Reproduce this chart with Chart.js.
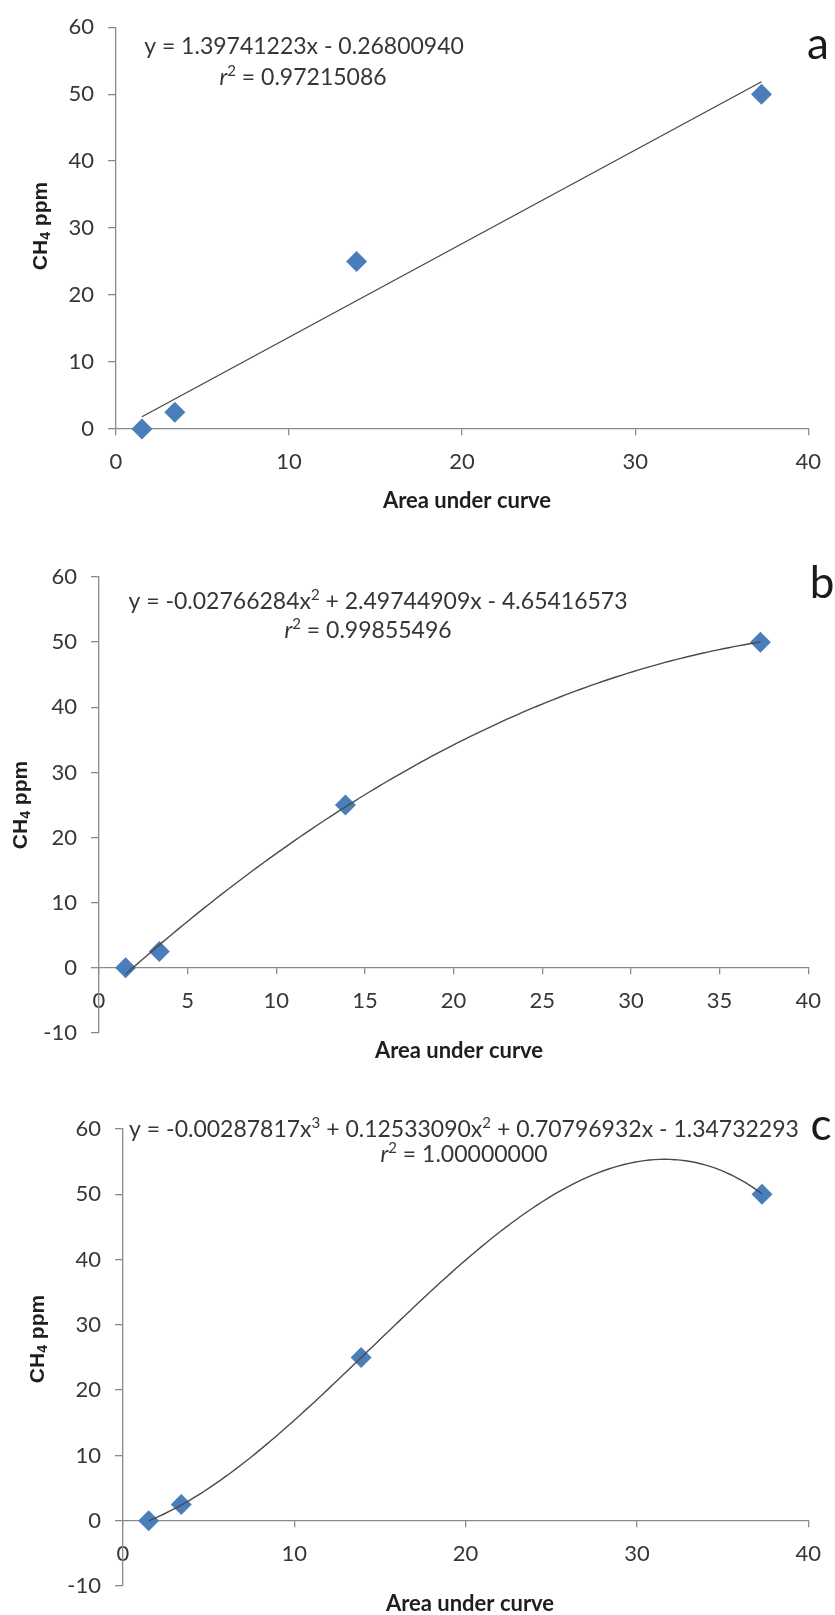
<!DOCTYPE html>
<html>
<head>
<meta charset="utf-8">
<title>CH4 calibration curves</title>
<script src="https://cdn.jsdelivr.net/npm/chart.js@4.4.1/dist/chart.umd.min.js"></script>
<style>
  html, body { margin: 0; padding: 0; background: #fff; }
  body { width: 835px; height: 1615px; position: relative; overflow: hidden; }
  canvas { position: absolute; left: 0; }
  #panelA { top: 0; }
  #panelB { top: 540px; }
  #panelC { top: 1075px; }
</style>
</head>
<body>
<canvas id="panelA" width="835" height="540"></canvas>
<canvas id="panelB" width="835" height="535"></canvas>
<canvas id="panelC" width="835" height="540"></canvas>

<script>
// calibration standards: peak area vs. methane concentration
const areaUnderCurve = [1.5, 3.4, 13.9, 37.3]
const ch4Ppm = [0, 2.5, 25, 50]

// fitted polynomials, constant term first
const linearFit = [-0.26800940, 1.39741223]
const quadraticFit = [-4.65416573, 2.49744909, -0.02766284]
const cubicFit = [-1.34732293, 0.70796932, 0.12533090, -0.00287817]
const rSquared = [0.97215086, 0.99855496, 1.00000000]

// axis ticks
const xTicksWide = [0, 10, 20, 30, 40]
const xTicksFine = [0, 5, 10, 15, 20, 25, 30, 35, 40]
const yTicksPositive = [0, 10, 20, 30, 40, 50, 60]
const yTicksWithNegative = [-10, 0, 10, 20, 30, 40, 50, 60]

const FONT = 'Lato, "Open Sans", sans-serif'
const TITLE_FONT = '"Liberation Sans", Arial, sans-serif'
const AXIS_GRAY = '#8a8a8a'
const TEXT = '#363636'
const MARKER_BLUE = '#4A7EBB'

const eqFont = '23px ' + FONT
const eqItalic = 'italic 23px ' + FONT
const supFont = '15px ' + FONT

// equation as text runs, powers raised:  y = -0.02766284x² + 2.49744909x - 4.65416573
function polyRuns(c) {
  const runs = []
  let s = 'y = '
  for (let p = c.length - 1; p >= 0; p--) {
    const v = c[p]
    if (p === c.length - 1) s += v < 0 ? '-' : ''
    else s += v < 0 ? ' - ' : ' + '
    s += Math.abs(v).toFixed(8) + (p >= 1 ? 'x' : '')
    if (p >= 2) {
      runs.push({ text: s, font: eqFont })
      runs.push({ text: String(p), font: supFont, dy: -7 })
      s = ''
    }
  }
  runs.push({ text: s, font: eqFont })
  return runs
}

function polyAt(c, x) {
  return c.reduce((sum, k, p) => sum + k * Math.pow(x, p), 0)
}

// trendline drawn over the span of the standards
function fitCurve(c) {
  const x0 = areaUnderCurve[0]
  const x1 = areaUnderCurve[areaUnderCurve.length - 1]
  const n = c.length === 2 ? 1 : 120
  const pts = []
  for (let i = 0; i <= n; i++) {
    const x = x0 + (x1 - x0) * i / n
    pts.push({ x, y: polyAt(c, x) })
  }
  return pts
}

// small text plugin: equations, panel letters, axis titles (with subscript)
const panelText = {
  id: 'panelText',
  afterDraw(chart, args, opts) {
    const ctx = chart.ctx
    ;(opts.items || []).forEach(it => {
      ctx.save()
      ctx.translate(it.x, it.y)
      if (it.rotate) ctx.rotate(it.rotate)
      ctx.fillStyle = it.color || TEXT
      ctx.textBaseline = 'middle'
      ctx.textAlign = 'left'
      let w = 0
      it.runs.forEach(r => { ctx.font = r.font; w += ctx.measureText(r.text).width })
      let x = -w / 2
      it.runs.forEach(r => {
        ctx.font = r.font
        ctx.fillText(r.text, x, r.dy || 0)
        x += ctx.measureText(r.text).width
      })
      ctx.restore()
    })
  }
}

function textItems(p) {
  return [
    { x: p.eq[0], y: p.eq[1], runs: polyRuns(p.fit) },
    { x: p.r2[0], y: p.r2[1], runs: [
      { text: 'r', font: eqItalic },
      { text: '2', font: supFont, dy: -7 },
      { text: ' = ' + p.r2Value.toFixed(8), font: eqFont }
    ] },
    { x: p.letter[0], y: p.letter[1], color: '#1a1a1a',
      runs: [{ text: p.letterText, font: '44px ' + FONT }] },
    { x: p.xTitle[0], y: p.xTitle[1], color: '#1e1e1e',
      runs: [{ text: 'Area under curve', font: 'bold 22px ' + FONT }] },
    { x: p.yTitle[0], y: p.yTitle[1], rotate: -Math.PI / 2, color: '#1e1e1e', runs: [
      { text: 'CH', font: 'bold 21px ' + TITLE_FONT },
      { text: '4', font: 'bold 14px ' + TITLE_FONT, dy: 5 },
      { text: ' ppm', font: 'bold 21px ' + TITLE_FONT }
    ] }
  ]
}

function makePanel(id, p) {
  return new Chart(document.getElementById(id), {
    type: 'scatter',
    data: {
      datasets: [
        {
          data: fitCurve(p.fit),
          showLine: true,
          borderColor: '#4a4a4a',
          borderWidth: 1.4,
          pointRadius: 0,
          tension: 0,
          clip: false,
          order: 0
        },
        {
          data: areaUnderCurve.map((x, i) => ({ x, y: ch4Ppm[i] })),
          pointStyle: 'rectRot',
          pointRadius: 10.5,
          backgroundColor: MARKER_BLUE,
          borderColor: MARKER_BLUE,
          borderWidth: 0,
          clip: false,
          order: 1
        }
      ]
    },
    options: {
      responsive: false,
      animation: false,
      layout: { padding: p.padding },
      plugins: {
        legend: { display: false },
        tooltip: { enabled: false },
        panelText: { items: textItems(p) }
      },
      scales: {
        x: {
          type: 'linear',
          min: 0,
          max: 40,
          // horizontal axis crosses at CH4 = 0
          position: { y: 0 },
          afterFit: s => { s.height = 0 },
          afterBuildTicks: s => { s.ticks = p.xTicks.map(v => ({ value: v })) },
          grid: { drawOnChartArea: false, tickLength: 6, color: AXIS_GRAY, lineWidth: 1.3 },
          border: { color: AXIS_GRAY, width: 1.3 },
          ticks: { color: TEXT, font: { family: FONT, size: 22 }, padding: 14, maxRotation: 0, autoSkip: false }
        },
        y: {
          type: 'linear',
          min: p.yTicks[0],
          max: p.yTicks[p.yTicks.length - 1],
          afterFit: s => { s.width = 60 },
          afterBuildTicks: s => { s.ticks = p.yTicks.map(v => ({ value: v })) },
          grid: { drawOnChartArea: false, tickLength: 8, color: AXIS_GRAY, lineWidth: 1.3 },
          border: { color: AXIS_GRAY, width: 1.3 },
          ticks: { color: TEXT, font: { family: FONT, size: 22 }, padding: 14 }
        }
      }
    },
    plugins: [panelText]
  })
}

makePanel('panelA', {
  fit: linearFit, r2Value: rSquared[0], letterText: 'a',
  xTicks: xTicksWide, yTicks: yTicksPositive,
  padding: { left: 56, right: 18, top: 24, bottom: 111 },
  eq: [304, 47], r2: [303, 78], letter: [818, 45], xTitle: [467, 501], yTitle: [41, 226]
})

makePanel('panelB', {
  fit: quadraticFit, r2Value: rSquared[1], letterText: 'b',
  xTicks: xTicksFine, yTicks: yTicksWithNegative,
  padding: { left: 39, right: 16, top: 37, bottom: 42 },
  eq: [378, 62], r2: [368, 91], letter: [822, 44], xTitle: [459, 511], yTitle: [21, 265]
})

makePanel('panelC', {
  fit: cubicFit, r2Value: rSquared[2], letterText: 'c',
  xTicks: xTicksWide, yTicks: yTicksWithNegative,
  padding: { left: 63, right: 17, top: 54, bottom: 29 },
  eq: [464, 55], r2: [464, 80], letter: [821, 51], xTitle: [470, 529], yTitle: [38, 264]
})
</script>
</body>
</html>
